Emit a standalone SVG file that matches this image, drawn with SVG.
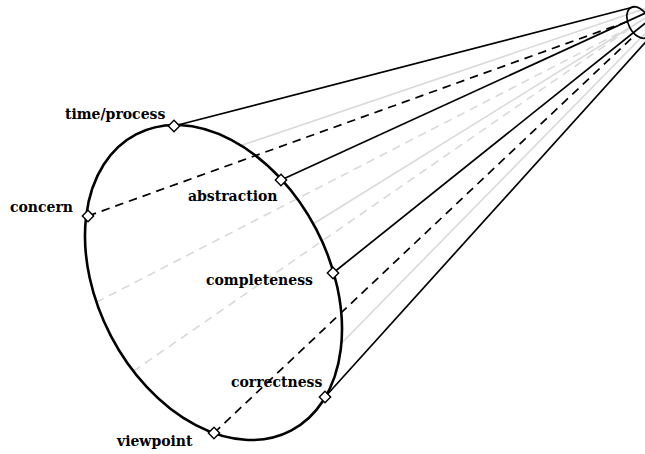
<svg xmlns="http://www.w3.org/2000/svg" width="645" height="454" viewBox="0 0 645 454">
<style>
.lbl{font-family:"DejaVu Serif","Liberation Serif",serif;font-weight:bold;font-size:14px;fill:#000}
.blk{stroke:#000;stroke-width:1.7;fill:none}
.dsh{stroke:#000;stroke-width:1.7;fill:none;stroke-dasharray:8.5 6}
.gry{stroke:#d9d9d9;stroke-width:1.6;fill:none}
.gdsh{stroke:#d9d9d9;stroke-width:1.6;fill:none;stroke-dasharray:8.5 6}
.dia{fill:#fff;stroke:#000;stroke-width:1.4}
</style>
<defs>
<rect id="d" x="-4" y="-4" width="8" height="8" transform="rotate(45)"/>
</defs>
<g id="connectors">
<line class="gry" x1="242.5" y1="145" x2="650" y2="6.9"/>
<line class="gry" x1="313" y1="224" x2="650" y2="15.1"/>
<line class="gry" x1="341.7" y1="343" x2="650" y2="28.5"/>
<line class="gdsh" x1="133" y1="371.5" x2="630.2" y2="28.3"/>
<line class="gdsh" x1="96" y1="302.4" x2="629.7" y2="27.5"/>
<line class="blk" x1="174" y1="126" x2="634.5" y2="6.8"/>
<line class="blk" x1="281" y1="180" x2="650" y2="11"/>
<line class="blk" x1="333" y1="273" x2="650" y2="19.4"/>
<line class="blk" x1="325" y1="397" x2="650" y2="37.2"/>
<line class="dsh" x1="88" y1="216" x2="627.5" y2="21.5"/>
<line class="dsh" x1="214" y1="433" x2="635.5" y2="34.6"/>
</g>
<g id="near-end">
<ellipse cx="213.5" cy="282.5" rx="115.7" ry="167.2" transform="rotate(-27.6 213.5 282.5)" fill="none" stroke="#000" stroke-width="2.6"/>
</g>
<g id="far-end">
<ellipse cx="639" cy="22.5" rx="10.5" ry="17" transform="rotate(-27.6 639 22.5)" fill="none" stroke="#000" stroke-width="1.7"/>
</g>
<g id="time-process">
<use href="#d" class="dia" transform="translate(174 126)"/>
<text class="lbl" x="65" y="119">time/process</text>
</g>
<g id="concern">
<use href="#d" class="dia" transform="translate(88 216)"/>
<text class="lbl" x="10" y="212">concern</text>
</g>
<g id="abstraction">
<use href="#d" class="dia" transform="translate(281 180)"/>
<text class="lbl" x="188" y="201">abstraction</text>
</g>
<g id="completeness">
<use href="#d" class="dia" transform="translate(333 273)"/>
<text class="lbl" x="206" y="285">completeness</text>
</g>
<g id="correctness">
<use href="#d" class="dia" transform="translate(325 397)"/>
<text class="lbl" x="231" y="387">correctness</text>
</g>
<g id="viewpoint">
<use href="#d" class="dia" transform="translate(214 433)"/>
<text class="lbl" x="117" y="446">viewpoint</text>
</g>
</svg>
